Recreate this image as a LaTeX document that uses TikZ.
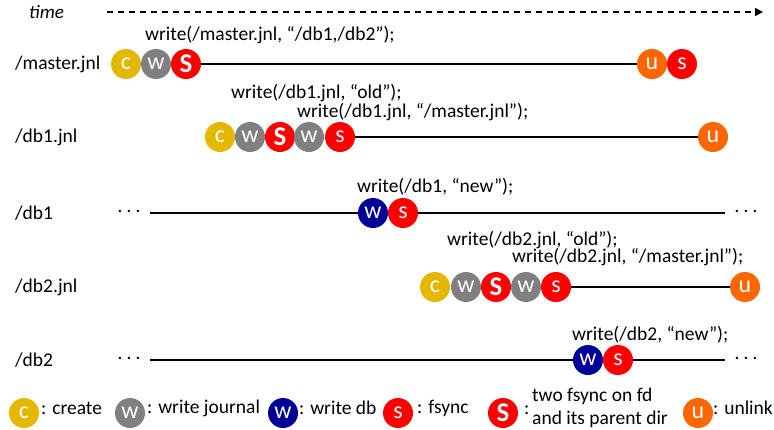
\documentclass[tikz,border=0pt]{standalone}
\usepackage{fontspec}
\setmainfont{Carlito}
\usetikzlibrary{arrows.meta,shapes.geometric}
\definecolor{cyel}{RGB}{228,184,0}
\definecolor{cgray}{RGB}{128,128,128}
\definecolor{cred}{RGB}{255,0,0}
\definecolor{corg}{RGB}{255,102,0}
\definecolor{cnavy}{RGB}{0,0,153}
\begin{document}
\begin{tikzpicture}[x=1pt,y=-1pt,
  ev/.style={circle,minimum size=30pt,inner sep=0pt,text=white,font=\fontsize{24}{24}\selectfont},
  evC/.style={ev,fill=cyel},
  evW/.style={ev,fill=cgray},
  evD/.style={ev,fill=cnavy},
  evS/.style={ev,fill=cred},
  evSS/.style={ev,fill=cred,font=\fontsize{27}{27}\selectfont\bfseries},
  evU/.style={ev,fill=corg},
  lg/.style={circle,minimum size=30pt,inner sep=0pt,text=white,font=\fontsize{24}{24}\selectfont},
  lab/.style={anchor=west,font=\fontsize{19.5}{19.5}\selectfont,inner sep=0pt},
  txt/.style={anchor=west,font=\fontsize{19.5}{19.5}\selectfont,inner sep=0pt},
  tl/.style={line width=2pt},
  dots/.style={font=\fontsize{16}{16}\selectfont\bfseries,inner sep=0pt}
]
\useasboundingbox (0,0) rectangle (774,429);
% time
\node[lab,font=\fontsize{19}{19}\selectfont\itshape] (time) at (29,12) {time};
\coordinate (t0) at (107,12);
\coordinate (t1) at (763,12);
\draw[line width=1.5pt,dash pattern=on 6pt off 5pt,-{Triangle[length=8pt,width=8pt]}] (t0) -- (t1);

% /master.jnl
\node[lab] (lm) at (15,64) {/master.jnl};
\node[txt] (tm) at (145,35) {write(/master.jnl, “/db1,/db2”);};
\node[evC] (m1) at (126,64) {c};
\node[evW] (m2) at (156,64) {w};
\node[evSS] (m3) at (186,64) {S};
\node[evU] (m4) at (652,64) {u};
\node[evS] (m5) at (682,64) {s};
\draw[tl] (m3) -- (m4);

% /db1.jnl
\node[lab] (l1) at (15,137) {/db1.jnl};
\node[txt] (t1a) at (231,93) {write(/db1.jnl, “old”);};
\node[txt] (t1b) at (297,112) {write(/db1.jnl, “/master.jnl”);};
\node[evC] (a1) at (220,137) {c};
\node[evW] (a2) at (250,137) {w};
\node[evSS] (a3) at (280,137) {S};
\node[evW] (a4) at (309,137) {w};
\node[evS] (a5) at (340,137) {s};
\node[evU] (a6) at (713,137) {u};
\draw[tl] (a5) -- (a6);

% /db1
\node[lab] (l2) at (15,213) {/db1};
\node[dots] (d1l) at (129,211) {. . .};
\node[dots] (d1r) at (746,211) {. . .};
\coordinate (b0) at (150,213);
\coordinate (b9) at (725,213);
\node[txt] (t2) at (357,187) {write(/db1, “new”);};
\node[evD] (b1) at (373,213) {w};
\node[evS] (b2) at (403,213) {s};
\draw[tl] (b0) -- (b1);
\draw[tl] (b2) -- (b9);

% /db2.jnl
\node[lab] (l3) at (15,287) {/db2.jnl};
\node[txt] (t3a) at (447,240) {write(/db2.jnl, “old”);};
\node[txt] (t3b) at (512,257) {write(/db2.jnl, “/master.jnl”);};
\node[evC] (c1) at (435,287) {c};
\node[evW] (c2) at (466,287) {w};
\node[evSS] (c3) at (496,287) {S};
\node[evW] (c4) at (526,287) {w};
\node[evS] (c5) at (556,287) {s};
\node[evU] (c6) at (745,287) {u};
\draw[tl] (c5) -- (c6);

% /db2
\node[lab] (l4) at (15,360) {/db2};
\node[dots] (d2l) at (129,358) {. . .};
\node[dots] (d2r) at (746,358) {. . .};
\coordinate (e0) at (150,360);
\coordinate (e9) at (725,360);
\node[txt] (t4) at (572,335) {write(/db2, “new”);};
\node[evD] (e1) at (588,360) {w};
\node[evS] (e2) at (618,360) {s};
\draw[tl] (e0) -- (e1);
\draw[tl] (e2) -- (e9);

% legend
\node[lg,fill=cyel] (g1) at (24,413) {c};
\node[txt] (g1t) at (41,408) {: create};
\node[lg,fill=cgray] (g2) at (130,413) {w};
\node[txt] (g2t) at (147,408) {: write journal};
\node[lg,fill=cnavy] (g3) at (283,413) {w};
\node[txt] (g3t) at (299,408) {: write db};
\node[lg,fill=cred] (g4) at (398,413) {s};
\node[txt] (g4t) at (417,408) {: fsync};
\node[lg,fill=cred,font=\fontsize{27}{27}\selectfont\bfseries] (g5) at (503,413) {S};
\node[txt] (g5c) at (524,410) {:};
\node[txt,align=left,font=\fontsize{19.5}{23}\selectfont] (g5t) at (532,408) {two fsync on fd\\and its parent dir};
\node[lg,fill=corg] (g6) at (698,413) {u};
\node[txt] (g6t) at (713,408) {: unlink};
\end{tikzpicture}
\end{document}
